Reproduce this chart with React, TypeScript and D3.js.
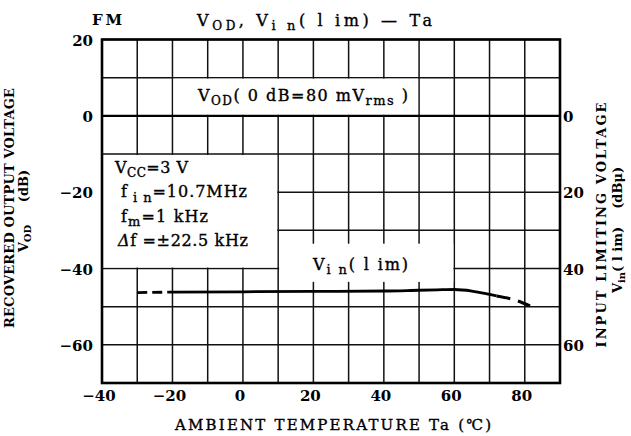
import React from "react";
import * as d3 from "d3";

// axis ticks
const xTicks = [-40, -20, 0, 20, 40, 60, 80];
const leftTicks = [20, 0, -20, -40, -60];
const rightTicks = [0, 20, 40, 60];

// V_OD (dB) vs Ta
const vodTemp = [-40, 90];
const vodValue = [0, 0];

// V_in(lim) (dBu) vs Ta : dashed start, solid part, dashed end
const vinStartTemp = [-30, -21];
const vinStartValue = [46.3, 46.2];
const vinTemp = [-21, 0, 20, 40, 50, 55, 60, 65, 70, 72];
const vinValue = [46.2, 46.1, 46.0, 45.9, 45.7, 45.6, 45.5, 45.9, 46.8, 47.2];
const vinEndTemp = [72, 77, 81.5];
const vinEndValue = [47.2, 48.2, 49.8];

const serif = "'DejaVu Serif', 'Liberation Serif', serif";

export default function App() {
  const x = d3.scaleLinear().domain([-40, 90]).range([102, 560]);
  const y = d3.scaleLinear().domain([-70, 20]).range([383, 39.5]);
  const yR = d3.scaleLinear().domain([70, -20]).range([383, 39.5]);

  const gridX = d3.range(-40, 91, 10);
  const gridY = d3.range(-70, 21, 10);

  const lineL = d3
    .line<number>()
    .x((d, i) => x(vodTemp[i]))
    .y((d) => y(d));

  const vinLine = (temps: number[], vals: number[]) =>
    d3
      .line<number>()
      .x((d, i) => x(temps[i]))
      .y((d) => yR(d))
      .curve(d3.curveMonotoneX)(vals) || "";

  const x0 = x(-40), x1 = x(90), yTop = y(20), yBot = y(-70);
  const med = { stroke: "#000", strokeWidth: 0.35 };

  return (
    <svg
      width={631}
      height={436}
      style={{ position: "absolute", left: 0, top: 0, background: "#fff" }}
      fontFamily={serif}
    >
      <rect width={631} height={436} fill="#fff" />

      {/* grid */}
      {gridX.map((v) => (
        <line key={"gx" + v} x1={x(v)} x2={x(v)} y1={yTop} y2={yBot} stroke="#111" strokeWidth={1.5} />
      ))}
      {gridY.map((v) => (
        <line key={"gy" + v} x1={x0} x2={x1} y1={y(v)} y2={y(v)} stroke="#111" strokeWidth={1.5} />
      ))}

      {/* white label boxes covering grid */}
      <rect x={x(-40) + 1} y={y(-10) + 1} width={x(10) - x(-40) - 2} height={y(-40) - y(-10) - 2} fill="#fff" />
      <rect x={x(-20) + 1} y={y(10) + 1} width={x(50) - x(-20) - 2} height={y(0) - y(10) - 2} fill="#fff" />
      <rect x={x(10) + 1} y={y(-33.5)} width={x(60) - x(10) - 2} height={y(-43.5) - y(-33.5)} fill="#fff" />

      {/* border */}
      <rect x={x0} y={yTop} width={x1 - x0} height={yBot - yTop} fill="none" stroke="#000" strokeWidth={2.6} />

      {/* V_OD line */}
      <path d={lineL(vodValue) || ""} fill="none" stroke="#000" strokeWidth={2.4} />

      {/* V_in(lim) */}
      <path d={vinLine(vinStartTemp, vinStartValue)} fill="none" stroke="#000" strokeWidth={2.8} strokeDasharray="10,5" />
      <path d={vinLine(vinTemp, vinValue)} fill="none" stroke="#000" strokeWidth={2.8} />
      <path d={vinLine(vinEndTemp, vinEndValue)} fill="none" stroke="#000" strokeWidth={3} strokeDasharray="14,8" />

      {/* tick labels */}
      {xTicks.map((v) => (
        <text key={"xt" + v} x={x(v) - 3} y={401} textAnchor="middle" fontSize={15} fontWeight="bold">
          {v < 0 ? "\u2212" + Math.abs(v) : v}
        </text>
      ))}
      {leftTicks.map((v) => (
        <text key={"lt" + v} x={93} y={y(v) + 6} textAnchor="end" fontSize={15} fontWeight="bold">
          {v < 0 ? "\u2212" + Math.abs(v) : v}
        </text>
      ))}
      {rightTicks.map((v) => (
        <text key={"rt" + v} x={563} y={yR(v) + 6} textAnchor="start" fontSize={15} fontWeight="bold">
          {v}
        </text>
      ))}

      {/* titles */}
      <text x={92} y={25} fontSize={15} fontWeight="bold" textLength={30} lengthAdjust="spacing">FM</text>
      <text x={197} y={26} fontSize={16} {...med} textLength={235} lengthAdjust="spacing">
        V<tspan fontSize={12} dy={4}>OD</tspan>
        <tspan dy={-4}>, V</tspan>
        <tspan fontSize={13} dy={4}>i n</tspan>
        <tspan dy={-4}>( l im)  —  Ta</tspan>
      </text>

      {/* V_OD label */}
      <text x={198} y={101} fontSize={16} {...med} textLength={210} lengthAdjust="spacing">
        V<tspan fontSize={12} dy={4}>OD</tspan>
        <tspan dy={-4}>( 0 dB=80 mV</tspan>
        <tspan fontSize={13} dy={4}>rms</tspan>
        <tspan dy={-4}> )</tspan>
      </text>

      {/* conditions */}
      <g fontSize={16} {...med}>
        <text x={115} y={173} textLength={73} lengthAdjust="spacing">
          V<tspan fontSize={12} dy={4}>CC</tspan>
          <tspan dy={-4}>=3 V</tspan>
        </text>
        <text x={121} y={197} textLength={126} lengthAdjust="spacing">
          f<tspan fontSize={13} dy={5}> i n</tspan>
          <tspan dy={-5}>=10.7MHz</tspan>
        </text>
        <text x={121} y={222} textLength={87} lengthAdjust="spacing">
          f<tspan fontSize={13} dy={4}>m</tspan>
          <tspan dy={-4}>=1 kHz</tspan>
        </text>
        <text x={118} y={246} textLength={130} lengthAdjust="spacing">
          <tspan fontStyle="italic">Δ</tspan>f =±22.5 kHz
        </text>
      </g>

      {/* V_in(lim) label */}
      <text x={313} y={270} fontSize={16} {...med} textLength={95} lengthAdjust="spacing">
        V<tspan fontSize={13} dy={4}>i n</tspan>
        <tspan dy={-4}>( l im)</tspan>
      </text>

      {/* x axis title */}
      <text x={175} y={430} fontSize={15} {...med} textLength={316} lengthAdjust="spacing">
        AMBIENT TEMPERATURE  Ta (℃)
      </text>

      {/* left axis title */}
      <g transform="translate(14,208) rotate(-90)">
        <text x={0} y={0} textAnchor="middle" fontSize={13} fontWeight="bold" textLength={240} lengthAdjust="spacing">
          RECOVERED OUTPUT VOLTAGE
        </text>
        <text x={-3} y={14} textAnchor="middle" fontSize={13} fontWeight="bold">
          V<tspan fontSize={10} dy={3}>OD</tspan>
          <tspan dy={-3}>{"\u00a0\u00a0\u00a0\u00a0\u00a0(dB)"}</tspan>
        </text>
      </g>

      {/* right axis title */}
      <g transform="translate(606,225) rotate(-90)">
        <text x={0} y={0} textAnchor="middle" fontSize={13} fontWeight="bold" textLength={245} lengthAdjust="spacing">
          INPUT LIMITING VOLTAGE
        </text>
        <text x={-5} y={16} textAnchor="middle" fontSize={13} fontWeight="bold">
          V<tspan fontSize={10} dy={3}>in</tspan>
          <tspan dy={-3}>{"( l im)\u00a0\u00a0\u00a0\u00a0(dBμ)"}</tspan>
        </text>
      </g>
    </svg>
  );
}
